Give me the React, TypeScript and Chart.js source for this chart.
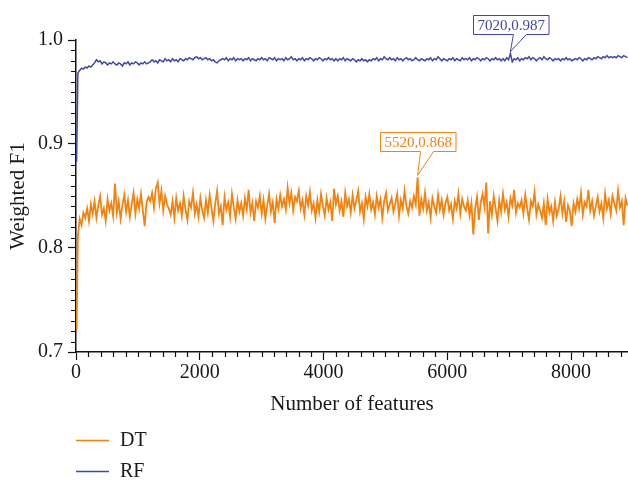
import React, { useEffect, useRef } from "react";
import { Chart, registerables } from "chart.js";

Chart.register(...registerables);

// Number of features (x categories)
const FEATURES = [
  10, 30, 60, 90, 120, 150, 180, 210, 240, 270,
  300, 330, 360, 390, 420, 450, 480, 510, 540, 570,
  600, 630, 660, 690, 720, 750, 780, 810, 840, 870,
  900, 930, 960, 990, 1020, 1050, 1080, 1110, 1140, 1170,
  1200, 1230, 1260, 1290, 1320, 1350, 1380, 1410, 1440, 1470,
  1500, 1530, 1560, 1590, 1620, 1650, 1680, 1710, 1740, 1770,
  1800, 1830, 1860, 1890, 1920, 1950, 1980, 2010, 2040, 2070,
  2100, 2130, 2160, 2190, 2220, 2250, 2280, 2310, 2340, 2370,
  2400, 2430, 2460, 2490, 2520, 2550, 2580, 2610, 2640, 2670,
  2700, 2730, 2760, 2790, 2820, 2850, 2880, 2910, 2940, 2970,
  3000, 3030, 3060, 3090, 3120, 3150, 3180, 3210, 3240, 3270,
  3300, 3330, 3360, 3390, 3420, 3450, 3480, 3510, 3540, 3570,
  3600, 3630, 3660, 3690, 3720, 3750, 3780, 3810, 3840, 3870,
  3900, 3930, 3960, 3990, 4020, 4050, 4080, 4110, 4140, 4170,
  4200, 4230, 4260, 4290, 4320, 4350, 4380, 4410, 4440, 4470,
  4500, 4530, 4560, 4590, 4620, 4650, 4680, 4710, 4740, 4770,
  4800, 4830, 4860, 4890, 4920, 4950, 4980, 5010, 5040, 5070,
  5100, 5130, 5160, 5190, 5220, 5250, 5280, 5310, 5340, 5370,
  5400, 5430, 5460, 5490, 5520, 5550, 5580, 5610, 5640, 5670,
  5700, 5730, 5760, 5790, 5820, 5850, 5880, 5910, 5940, 5970,
  6000, 6030, 6060, 6090, 6120, 6150, 6180, 6210, 6240, 6270,
  6300, 6330, 6360, 6390, 6420, 6450, 6480, 6510, 6540, 6570,
  6600, 6630, 6660, 6690, 6720, 6750, 6780, 6810, 6840, 6870,
  6900, 6930, 6960, 6990, 7020, 7050, 7080, 7110, 7140, 7170,
  7200, 7230, 7260, 7290, 7320, 7350, 7380, 7410, 7440, 7470,
  7500, 7530, 7560, 7590, 7620, 7650, 7680, 7710, 7740, 7770,
  7800, 7830, 7860, 7890, 7920, 7950, 7980, 8010, 8040, 8070,
  8100, 8130, 8160, 8190, 8220, 8250, 8280, 8310, 8340, 8370,
  8400, 8430, 8460, 8490, 8520, 8550, 8580, 8610, 8640, 8670,
  8700, 8730, 8760, 8790, 8820, 8850, 8880, 8910,
];

// Weighted F1 of the decision tree
const DT_F1 = [
  0.722, 0.812, 0.828, 0.822, 0.834, 0.829, 0.838, 0.826, 0.842, 0.833,
  0.845, 0.829, 0.841, 0.850, 0.832, 0.838, 0.826, 0.847, 0.836, 0.843,
  0.831, 0.862, 0.834, 0.845, 0.828, 0.841, 0.851, 0.835, 0.846, 0.830,
  0.842, 0.853, 0.833, 0.847, 0.838, 0.852, 0.836, 0.821, 0.844, 0.849,
  0.845, 0.853, 0.839, 0.857, 0.863, 0.843, 0.855, 0.836, 0.850, 0.842,
  0.838, 0.832, 0.845, 0.829, 0.848, 0.836, 0.843, 0.831, 0.850, 0.837,
  0.827, 0.845, 0.839, 0.853, 0.833, 0.842, 0.830, 0.848, 0.836, 0.829,
  0.846, 0.834, 0.851, 0.838, 0.826, 0.843, 0.855, 0.833, 0.840, 0.822,
  0.849, 0.837, 0.844, 0.830, 0.852, 0.839, 0.828, 0.846, 0.835, 0.843,
  0.831, 0.848, 0.837, 0.856, 0.834, 0.843, 0.826, 0.845, 0.839, 0.850,
  0.833, 0.846, 0.828, 0.841, 0.852, 0.835, 0.844, 0.824, 0.847, 0.838,
  0.851, 0.840, 0.847, 0.837, 0.858, 0.843, 0.853, 0.836, 0.849, 0.845,
  0.855, 0.838, 0.846, 0.832, 0.850, 0.841, 0.854, 0.836, 0.843, 0.829,
  0.846, 0.835, 0.852, 0.840, 0.831, 0.848, 0.837, 0.844, 0.826, 0.857,
  0.842, 0.850, 0.836, 0.845, 0.830, 0.853, 0.840, 0.847, 0.834, 0.851,
  0.838, 0.846, 0.855, 0.835, 0.843, 0.828, 0.849, 0.840, 0.852, 0.837,
  0.844, 0.832, 0.850, 0.839, 0.847, 0.829, 0.845, 0.853, 0.836, 0.842,
  0.848, 0.835, 0.843, 0.852, 0.831, 0.846, 0.838, 0.855, 0.840, 0.833,
  0.845, 0.839, 0.850, 0.842, 0.868, 0.831, 0.847, 0.838, 0.853, 0.836,
  0.844, 0.829, 0.848, 0.840, 0.834, 0.851, 0.837, 0.846, 0.832, 0.843,
  0.849, 0.836, 0.842, 0.828, 0.845, 0.838, 0.852, 0.833, 0.847, 0.840,
  0.836, 0.846, 0.831, 0.843, 0.813, 0.838, 0.849, 0.827, 0.844, 0.852,
  0.840, 0.863, 0.814, 0.845, 0.832, 0.850, 0.838, 0.826, 0.846, 0.835,
  0.852, 0.837, 0.844, 0.830, 0.848, 0.841, 0.856, 0.834, 0.843, 0.839,
  0.846, 0.833, 0.851, 0.838, 0.827, 0.845, 0.840, 0.854, 0.832, 0.842,
  0.836, 0.829, 0.843, 0.822, 0.847, 0.834, 0.840, 0.826, 0.844, 0.831,
  0.838, 0.850, 0.833, 0.845, 0.825, 0.841, 0.836, 0.821, 0.843, 0.835,
  0.847, 0.838, 0.853, 0.832, 0.844, 0.840, 0.856, 0.836, 0.845, 0.831,
  0.840, 0.849, 0.835, 0.843, 0.829, 0.852, 0.838, 0.846, 0.833, 0.850,
  0.843, 0.836, 0.855, 0.839, 0.845, 0.822, 0.848, 0.841,
];

// Weighted F1 of the random forest
const RF_F1 = [
  0.883, 0.968, 0.971, 0.973, 0.972, 0.974, 0.973, 0.975, 0.974, 0.976,
  0.978, 0.981, 0.979, 0.980, 0.977, 0.979, 0.978, 0.976, 0.978, 0.977,
  0.979, 0.977, 0.976, 0.978, 0.977, 0.975, 0.978, 0.977, 0.979, 0.976,
  0.978, 0.977, 0.979, 0.978, 0.976, 0.978, 0.977, 0.979, 0.977, 0.978,
  0.979, 0.981, 0.979, 0.980, 0.978, 0.981, 0.980, 0.979, 0.982, 0.980,
  0.981, 0.979, 0.982, 0.980, 0.981, 0.979, 0.982, 0.981, 0.980, 0.982,
  0.981, 0.983, 0.982, 0.981, 0.983, 0.984, 0.982, 0.983, 0.981, 0.982,
  0.983, 0.981, 0.982, 0.980, 0.981, 0.979, 0.978, 0.980, 0.981, 0.982,
  0.981, 0.983, 0.980, 0.982, 0.981, 0.983, 0.980, 0.982, 0.981, 0.982,
  0.980, 0.982, 0.981, 0.983, 0.980, 0.982, 0.981, 0.980, 0.982, 0.981,
  0.983, 0.981, 0.982, 0.980, 0.983, 0.982, 0.981, 0.983, 0.980, 0.982,
  0.981, 0.982, 0.980, 0.983, 0.981, 0.982, 0.984, 0.981, 0.982, 0.980,
  0.982, 0.981, 0.983, 0.980, 0.982, 0.981, 0.983, 0.982, 0.980, 0.982,
  0.981, 0.983, 0.982, 0.980, 0.982, 0.981, 0.983, 0.981, 0.982, 0.980,
  0.982, 0.980, 0.982, 0.981, 0.983, 0.980, 0.982, 0.981, 0.980, 0.982,
  0.981, 0.979, 0.981, 0.980, 0.982, 0.980, 0.981, 0.979, 0.981, 0.980,
  0.982, 0.981, 0.983, 0.980, 0.982, 0.981, 0.984, 0.982, 0.981, 0.983,
  0.981, 0.982, 0.980, 0.983, 0.981, 0.982, 0.980, 0.982, 0.983, 0.981,
  0.982, 0.980, 0.981, 0.983, 0.981, 0.980, 0.982, 0.981, 0.980, 0.982,
  0.981, 0.983, 0.980, 0.982, 0.981, 0.984, 0.982, 0.980, 0.982, 0.981,
  0.980, 0.982, 0.981, 0.983, 0.980, 0.982, 0.981, 0.980, 0.983, 0.981,
  0.982, 0.981, 0.983, 0.980, 0.982, 0.981, 0.983, 0.982, 0.980, 0.982,
  0.981, 0.983, 0.982, 0.980, 0.982, 0.981, 0.983, 0.981, 0.982, 0.980,
  0.982, 0.980, 0.983, 0.981, 0.987, 0.979, 0.982, 0.981, 0.983, 0.980,
  0.982, 0.981, 0.983, 0.982, 0.984, 0.981, 0.983, 0.982, 0.980, 0.982,
  0.983, 0.981, 0.984, 0.982, 0.981, 0.983, 0.982, 0.980, 0.982, 0.981,
  0.982, 0.980, 0.982, 0.981, 0.983, 0.981, 0.982, 0.980, 0.981, 0.982,
  0.981, 0.983, 0.982, 0.980, 0.982, 0.981, 0.983, 0.982, 0.981, 0.983,
  0.982, 0.984, 0.983, 0.982, 0.984, 0.983, 0.985, 0.983, 0.984, 0.983,
  0.984, 0.983, 0.985, 0.984, 0.983, 0.985, 0.984, 0.983,
];

const SERIES_LABELS = ["DT", "RF"];
const X_TICK_VALUES = [0, 2000, 4000, 6000, 8000];
const Y_TICK_VALUES = [0.7, 0.8, 0.9, 1.0];
// annotated points: [series index, feature count]
const ANNOTATED = [
  [0, 5520],
  [1, 7020],
];

const ORANGE = "#F4820F";
const BLUE = "#3F48AA";
const COLORS = [ORANGE, BLUE];
const FONT = "'Liberation Serif', 'DejaVu Serif', serif";
const TEXT = "#1a1a1a";

const X_MAX = 8920;
const MINOR_X = 200;
const MINOR_Y = 0.01;

const minorTicks = {
  id: "minorTicks",
  afterDraw(chart: any) {
    const { ctx, scales, chartArea } = chart;
    const xs = scales.x;
    const ys = scales.y;
    ctx.save();
    ctx.strokeStyle = "#111";
    ctx.lineWidth = 1.2;
    ctx.beginPath();
    for (let i = 1; i * MINOR_X <= X_MAX; i++) {
      if (i % 10 === 0) continue;
      const px = Math.round(xs.getPixelForValue(i * MINOR_X)) + 0.5;
      ctx.moveTo(px, chartArea.bottom);
      ctx.lineTo(px, chartArea.bottom + 5);
    }
    for (let i = 1; i < 30; i++) {
      if (i % 10 === 0) continue;
      const py = Math.round(ys.getPixelForValue(0.7 + i * MINOR_Y)) + 0.5;
      ctx.moveTo(chartArea.left - 5, py);
      ctx.lineTo(chartArea.left, py);
    }
    ctx.stroke();
    ctx.restore();
  },
};

const annotations = {
  id: "annotations",
  afterDatasetsDraw(chart: any) {
    const { ctx, scales } = chart;
    ctx.save();
    ctx.font = `15px ${FONT}`;
    ctx.textBaseline = "middle";
    ctx.textAlign = "center";
    ANNOTATED.forEach(([si, fx], k) => {
      const idx = FEATURES.indexOf(fx);
      const series = si === 0 ? DT_F1 : RF_F1;
      const val = series[idx];
      const px = scales.x.getPixelForValue(fx);
      const py = scales.y.getPixelForValue(val);
      const color = COLORS[si];
      const text = `${fx},${val.toFixed(3)}`;
      const gap = k === 0 ? 26 : 20;
      const w = ctx.measureText(text).width + 8;
      const h = 19;
      const left = Math.round(px - w / 2) + 0.5;
      const bottom = Math.round(py - gap) + 0.5;
      const top = bottom - h;
      ctx.fillStyle = "#fff";
      ctx.strokeStyle = color;
      ctx.lineWidth = 1;
      ctx.beginPath();
      ctx.moveTo(left, top);
      ctx.lineTo(left + w, top);
      ctx.lineTo(left + w, bottom);
      ctx.lineTo(px + 16, bottom);
      ctx.lineTo(px, py - 2);
      ctx.lineTo(px + 3, bottom);
      ctx.lineTo(left, bottom);
      ctx.closePath();
      ctx.fill();
      ctx.stroke();
      ctx.fillStyle = color;
      ctx.fillText(text, left + w / 2, (top + bottom) / 2 + 1);
    });
    ctx.restore();
  },
};

const customLegend = {
  id: "customLegend",
  afterDraw(chart: any) {
    const { ctx, chartArea } = chart;
    ctx.save();
    ctx.font = `20px ${FONT}`;
    ctx.textBaseline = "middle";
    ctx.textAlign = "left";
    chart.data.datasets.forEach((ds: any, i: number) => {
      const y = 440.5 + i * 31;
      const x0 = chartArea.left;
      ctx.strokeStyle = ds.borderColor;
      ctx.lineWidth = 1.3;
      ctx.beginPath();
      ctx.moveTo(x0, y);
      ctx.lineTo(x0 + 33, y);
      ctx.stroke();
      ctx.fillStyle = TEXT;
      ctx.fillText(ds.label, x0 + 44, y);
    });
    ctx.restore();
  },
};

export default function App() {
  const ref = useRef<HTMLCanvasElement | null>(null);
  useEffect(() => {
    document.body.style.margin = "0";
    const canvas = ref.current;
    if (!canvas) return;
    const chart = new Chart(canvas, {
      type: "line",
      data: {
        datasets: [
          {
            label: SERIES_LABELS[0],
            data: FEATURES.map((x, i) => ({ x, y: DT_F1[i] })),
            borderColor: ORANGE,
            backgroundColor: ORANGE,
            borderWidth: 1.8,
            pointRadius: 0,
            tension: 0,
          },
          {
            label: SERIES_LABELS[1],
            data: FEATURES.map((x, i) => ({ x, y: RF_F1[i] })),
            borderColor: BLUE,
            backgroundColor: BLUE,
            borderWidth: 1.5,
            pointRadius: 0,
            tension: 0,
          },
        ],
      },
      options: {
        animation: false,
        responsive: false,
        maintainAspectRatio: false,
        layout: { padding: { top: 40, right: 0, bottom: 59, left: 0 } },
        plugins: { legend: { display: false }, tooltip: { enabled: false } },
        scales: {
          x: {
            type: "linear",
            min: 0,
            max: X_MAX,
            afterBuildTicks: (s: any) => {
              s.ticks = X_TICK_VALUES.map((v) => ({ value: v }));
            },
            afterFit: (s: any) => {
              s.height = 70;
            },
            ticks: {
              stepSize: 2000,
              color: TEXT,
              font: { family: FONT, size: 20 },
              padding: 1,
              maxRotation: 0,
              autoSkip: false,
              callback: (v: any) => String(v),
            },
            grid: {
              display: true,
              drawOnChartArea: false,
              drawTicks: true,
              tickLength: 8,
              tickColor: "#111",
              tickWidth: 1.2,
            },
            border: { display: true, color: "#111", width: 1.5 },
            title: {
              display: true,
              text: "Number of features",
              color: TEXT,
              font: { family: FONT, size: 21 },
              padding: { top: 0, bottom: 5 },
            },
          },
          y: {
            type: "linear",
            min: 0.7,
            max: 1.0,
            afterBuildTicks: (s: any) => {
              s.ticks = Y_TICK_VALUES.map((v) => ({ value: v }));
            },
            afterFit: (s: any) => {
              s.width = 76;
            },
            ticks: {
              stepSize: 0.1,
              color: TEXT,
              font: { family: FONT, size: 20 },
              padding: 5,
              callback: (v: any) => Number(v).toFixed(1),
            },
            grid: {
              display: true,
              drawOnChartArea: false,
              drawTicks: true,
              tickLength: 8,
              tickColor: "#111",
              tickWidth: 1.2,
            },
            border: { display: true, color: "#111", width: 1.5 },
            title: {
              display: true,
              text: "Weighted F1",
              color: TEXT,
              font: { family: FONT, size: 21 },
              padding: { top: 6, bottom: 0 },
            },
          },
        },
      },
      plugins: [minorTicks, annotations, customLegend],
    });
    return () => chart.destroy();
  }, []);
  return (
    <canvas
      ref={ref}
      width={628}
      height={481}
      style={{ display: "block", width: 628, height: 481 }}
    />
  );
}
